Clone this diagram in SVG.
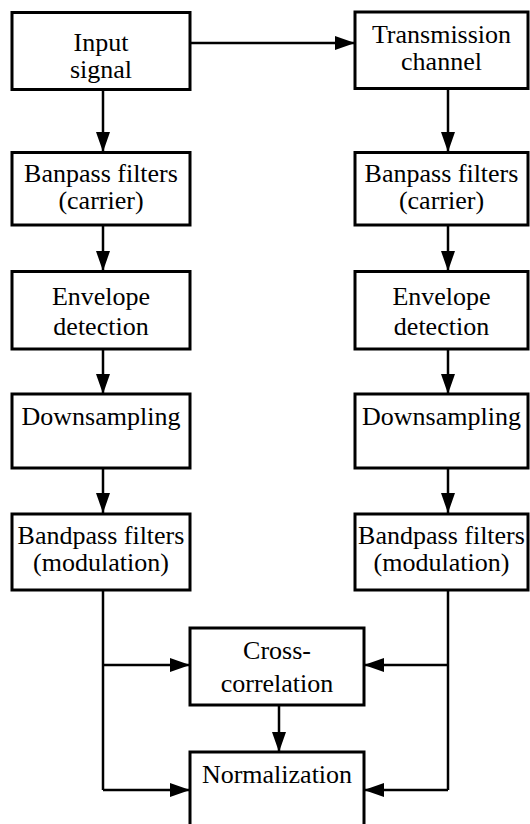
<svg xmlns="http://www.w3.org/2000/svg" width="530" height="824" viewBox="0 0 530 824">
<defs>
<marker id="ah" viewBox="0 0 20 14" refX="20" refY="7" markerWidth="20" markerHeight="14" markerUnits="userSpaceOnUse" orient="auto">
<path d="M0,0 L20,7 L0,14 Z" fill="#000"/>
</marker>
</defs>
<style>
.box{fill:#fff;stroke:#000;stroke-width:3}
.t{font-family:"Liberation Serif","Times New Roman",serif;font-size:26px;fill:#000;text-anchor:middle}
.c{fill:none;stroke:#000;stroke-width:2.5}
</style>
<rect width="530" height="824" fill="#fff"/>
<g id="connectors">
<path class="c" d="M190,43 H355" marker-end="url(#ah)"/>
<path class="c" d="M103,89 V152" marker-end="url(#ah)"/>
<path class="c" d="M103,225 V271" marker-end="url(#ah)"/>
<path class="c" d="M103,349 V394" marker-end="url(#ah)"/>
<path class="c" d="M103,468 V513" marker-end="url(#ah)"/>
<path class="c" d="M448,88 V152" marker-end="url(#ah)"/>
<path class="c" d="M448,225 V271" marker-end="url(#ah)"/>
<path class="c" d="M448,349 V394" marker-end="url(#ah)"/>
<path class="c" d="M448,468 V513" marker-end="url(#ah)"/>
<path class="c" d="M103,590 V790"/>
<path class="c" d="M103,665 H190" marker-end="url(#ah)"/>
<path class="c" d="M103,790 H190" marker-end="url(#ah)"/>
<path class="c" d="M448,590 V790"/>
<path class="c" d="M448,665 H364" marker-end="url(#ah)"/>
<path class="c" d="M448,790 H364" marker-end="url(#ah)"/>
<path class="c" d="M279,705 V752" marker-end="url(#ah)"/>
</g>
<g id="input">
<rect class="box" x="12" y="12.5" width="178" height="77"/>
<text class="t" x="101" y="51">Input</text>
<text class="t" x="101" y="78">signal</text>
</g>
<g id="transmission">
<rect class="box" x="355" y="12" width="173" height="76.5"/>
<text class="t" x="441.5" y="43">Transmission</text>
<text class="t" x="441.5" y="70">channel</text>
</g>
<g id="banpass-left">
<rect class="box" x="12" y="152.5" width="178" height="72.5"/>
<text class="t" x="101" y="182">Banpass filters</text>
<text class="t" x="101" y="209">(carrier)</text>
</g>
<g id="banpass-right">
<rect class="box" x="355" y="152.5" width="173" height="72.5"/>
<text class="t" x="441.5" y="182">Banpass filters</text>
<text class="t" x="441.5" y="209">(carrier)</text>
</g>
<g id="envelope-left">
<rect class="box" x="12" y="271.5" width="178" height="77.5"/>
<text class="t" x="101" y="305">Envelope</text>
<text class="t" x="101" y="335">detection</text>
</g>
<g id="envelope-right">
<rect class="box" x="355" y="271.5" width="173" height="77.5"/>
<text class="t" x="441.5" y="305">Envelope</text>
<text class="t" x="441.5" y="335">detection</text>
</g>
<g id="downsampling-left">
<rect class="box" x="12" y="394" width="178" height="74"/>
<text class="t" x="101" y="425">Downsampling</text>
</g>
<g id="downsampling-right">
<rect class="box" x="355" y="394" width="173" height="74"/>
<text class="t" x="441.5" y="425">Downsampling</text>
</g>
<g id="bandpass-mod-left">
<rect class="box" x="12" y="514" width="178" height="76"/>
<text class="t" x="101" y="544">Bandpass filters</text>
<text class="t" x="101" y="571">(modulation)</text>
</g>
<g id="bandpass-mod-right">
<rect class="box" x="355" y="514" width="173" height="76"/>
<text class="t" x="441.5" y="544">Bandpass filters</text>
<text class="t" x="441.5" y="571">(modulation)</text>
</g>
<g id="cross-correlation">
<rect class="box" x="190" y="628" width="174" height="77"/>
<text class="t" x="277" y="659">Cross-</text>
<text class="t" x="277" y="692">correlation</text>
</g>
<g id="normalization">
<rect class="box" x="190" y="752" width="174" height="110"/>
<text class="t" x="277" y="783">Normalization</text>
</g>
</svg>
